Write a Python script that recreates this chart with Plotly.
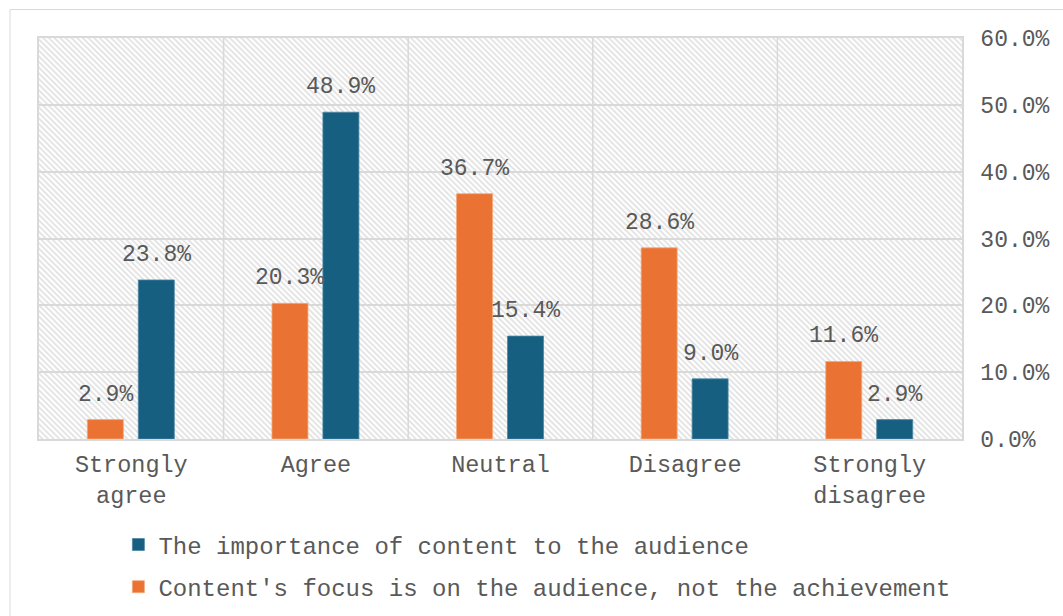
import base64
import plotly.graph_objects as go

# Survey answers per category (percent of respondents)
categories = ["Strongly<br>agree", "Agree", "Neutral", "Disagree", "Strongly<br>disagree"]
focus_values = [2.9, 20.3, 36.7, 28.6, 11.6]
importance_values = [23.8, 48.9, 15.4, 9.0, 2.9]
focus_name = "Content's focus is on the audience, not the achievement"
importance_name = "The importance of content to the audience"
y_ticks = [0, 10, 20, 30, 40, 50, 60]

ORANGE = "#EA7232"
BLUE = "#165F81"
GRID = "#d9d9d9"
TEXT = "#595959"
FONT = "Liberation Mono, Courier New, monospace"

# bar geometry in category units
BAR_W = 0.195
FOCUS_OFF = -0.238
IMP_OFF = 0.038

fig = go.Figure()
fig.add_trace(go.Bar(
    x=list(range(len(categories))), y=focus_values, name=focus_name,
    marker=dict(color=ORANGE, line=dict(color="#F4A877", width=0.8)),
    width=BAR_W, offset=FOCUS_OFF, legendgroup="focus", legendrank=2,
))
fig.add_trace(go.Bar(
    x=list(range(len(categories))), y=importance_values, name=importance_name,
    marker=dict(color=BLUE, line=dict(color="#4E87A3", width=0.8)),
    width=BAR_W, offset=IMP_OFF, legendgroup="importance", legendrank=1,
))

# value labels above each bar
annotations = []
for i, v in enumerate(focus_values):
    annotations.append(dict(x=i + FOCUS_OFF + BAR_W / 2, y=v, text=f"{v:.1f}%",
                            showarrow=False, yanchor="middle", yshift=25,
                            font=dict(family=FONT, size=23, color=TEXT)))
for i, v in enumerate(importance_values):
    annotations.append(dict(x=i + IMP_OFF + BAR_W / 2, y=v, text=f"{v:.1f}%",
                            showarrow=False, yanchor="middle", yshift=25,
                            font=dict(family=FONT, size=23, color=TEXT)))

# diagonal hatch for the plot area
svg = (
    "<svg xmlns='http://www.w3.org/2000/svg' width='923' height='401'>"
    "<defs><pattern id='h' width='4' height='4' patternUnits='userSpaceOnUse' "
    "patternTransform='rotate(45)'>"
    "<rect width='4' height='4' fill='white'/>"
    "<line x1='0' y1='1' x2='4' y2='1' stroke='#d4d4d4' stroke-width='1.2'/>"
    "</pattern></defs><rect width='100%' height='100%' fill='url(#h)'/></svg>"
)
hatch_src = "data:image/svg+xml;base64," + base64.b64encode(svg.encode()).decode()

fig.update_layout(
    width=1063, height=616,
    margin=dict(l=39, r=101, t=38, b=177, autoexpand=False),
    paper_bgcolor="white",
    plot_bgcolor="rgba(0,0,0,0)",
    barmode="overlay",
    font=dict(family=FONT, size=23, color=TEXT),
    showlegend=True,
    legend=dict(orientation="v", x=0.086, xanchor="left", y=-0.208, yanchor="top",
                traceorder="grouped", tracegroupgap=8,
                font=dict(family=FONT, size=24, color=TEXT),
                bgcolor="rgba(0,0,0,0)"),
    annotations=annotations,
    images=[dict(source=hatch_src, xref="paper", yref="paper", x=0, y=1,
                 sizex=1, sizey=1, sizing="stretch", xanchor="left",
                 yanchor="top", layer="below")],
    shapes=[dict(type="rect", xref="paper", yref="paper",
                 x0=(10 - 39) / 923, x1=1.3, y0=-1, y1=(439 - 9.5) / 401,
                 line=dict(color=GRID, width=1), layer="below")],
    xaxis=dict(
        tickmode="array", tickvals=list(range(len(categories))), ticktext=categories,
        range=[-0.5, len(categories) - 0.5], automargin=False,
        showgrid=False, showline=True, linecolor=GRID, linewidth=1.5, mirror=True,
        ticks="", ticklabelstandoff=3, tickfont=dict(family=FONT, size=23.5, color=TEXT),
        fixedrange=True,
    ),
    yaxis=dict(
        side="right", range=[0, 60], tickvals=y_ticks, automargin=False,
        ticktext=[f"{t:.1f}%" for t in y_ticks],
        showgrid=True, gridcolor=GRID, gridwidth=1.5,
        showline=True, linecolor=GRID, linewidth=1.5, mirror=True,
        zeroline=False, ticks="", ticklabelstandoff=12,
        tickfont=dict(family=FONT, size=23, color=TEXT),
    ),
)

# vertical separators between categories
for b in range(1, len(categories)):
    fig.add_shape(type="line", xref="x", yref="paper", x0=b - 0.5, x1=b - 0.5,
                  y0=0, y1=1, line=dict(color=GRID, width=1.5), layer="below")

fig.write_html("out.html")
